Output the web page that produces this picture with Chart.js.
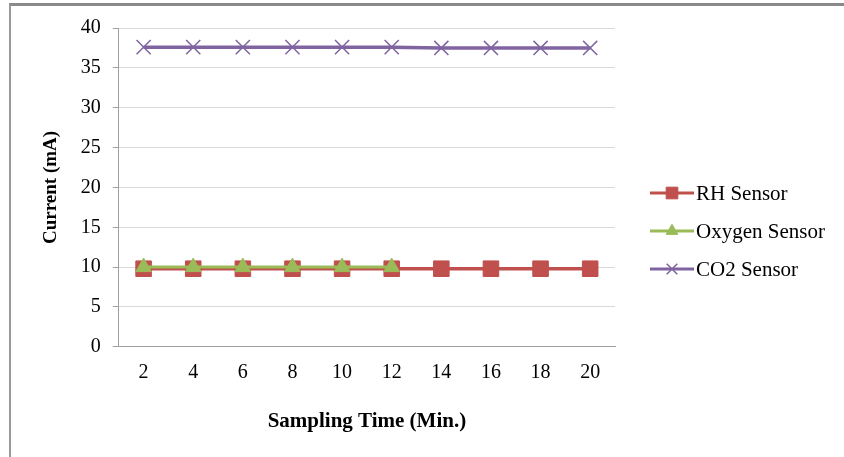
<!DOCTYPE html>
<html lang="en">
<head>
<meta charset="utf-8"/>
<title>Sensor Current</title>
<script src="https://cdn.jsdelivr.net/npm/chart.js"></script>
<style>
    body { margin: 0; background: #fff; }
    #wrap { position: relative; width: 844px; height: 457px; }
    #frame { position: absolute; left: 9px; top: 3px; right: 0; bottom: 0; border-top: 3px solid #8a8a8a; border-left: 2px solid #9a9a9a; pointer-events: none; }
</style>
</head>
<body>
<div id="wrap">
<canvas id="chart" width="844" height="457"></canvas>
<div id="frame"></div>
</div>
<script>
    const labels = ['2', '4', '6', '8', '10', '12', '14', '16', '18', '20'];
    const rhSensor = [9.8, 9.8, 9.8, 9.8, 9.8, 9.8, 9.8, 9.8, 9.8, 9.8];
    const oxygenSensor = [10, 10, 10, 10, 10, 10, null, null, null, null];
    const co2Sensor = [37.6, 37.6, 37.6, 37.6, 37.6, 37.6, 37.5, 37.5, 37.5, 37.5];

    const font = 'Liberation Serif, Times New Roman, serif';

    // legend on the right: line with marker in the middle
    const sideLegend = {
        id: 'sideLegend',
        afterDraw(chart) {
            const ctx = chart.ctx;
            const rows = [193, 231, 269];
            chart.data.datasets.forEach((ds, i) => {
                const y = rows[i];
                ctx.save();
                ctx.strokeStyle = ds.borderColor;
                ctx.lineWidth = 3;
                ctx.beginPath();
                ctx.moveTo(650, y);
                ctx.lineTo(694, y);
                ctx.stroke();
                ctx.fillStyle = ds.backgroundColor;
                ctx.strokeStyle = ds.borderColor;
                ctx.lineWidth = ds.pointBorderWidth || 1;
                Chart.helpers.drawPoint(ctx, { pointStyle: ds.pointStyle, radius: ds.pointRadius * 0.75, borderWidth: ds.pointBorderWidth || 1 }, 672, y);
                ctx.fillStyle = '#000';
                ctx.font = '21px ' + font;
                ctx.textBaseline = 'middle';
                ctx.fillText(ds.label, 696, y + 1);
                ctx.restore();
            });
        }
    };

    new Chart(document.getElementById('chart'), {
        type: 'line',
        data: {
            labels: labels,
            datasets: [
                {
                    label: 'RH Sensor', data: rhSensor, order: 2,
                    borderColor: '#c0504d', backgroundColor: '#c0504d', borderWidth: 3.5,
                    pointStyle: 'rect', pointRadius: 11, pointBorderWidth: 1
                },
                {
                    label: 'Oxygen Sensor', data: oxygenSensor, order: 1,
                    borderColor: '#9bbb59', backgroundColor: '#9bbb59', borderWidth: 3,
                    pointStyle: 'triangle', pointRadius: 9, pointBorderWidth: 1
                },
                {
                    label: 'CO2 Sensor', data: co2Sensor, order: 3,
                    borderColor: '#8064a2', backgroundColor: '#8064a2', borderWidth: 3.5,
                    pointStyle: 'crossRot', pointRadius: 10, pointBorderWidth: 1.5
                }
            ]
        },
        options: {
            responsive: false,
            animation: false,
            spanGaps: false,
            layout: { padding: { left: 40, right: 229, top: 28, bottom: 19 } },
            plugins: { legend: { display: false }, tooltip: { enabled: false } },
            scales: {
                x: {
                    offset: true,
                    grid: { display: false, drawTicks: false },
                    border: { color: '#a0a0a0' },
                    ticks: { color: '#000', font: { family: font, size: 20 }, padding: 14 },
                    title: { display: true, text: 'Sampling Time (Min.)', color: '#000', font: { family: font, size: 21, weight: 'bold' }, padding: { top: 10 } }
                },
                y: {
                    min: 0, max: 40,
                    grid: { color: '#d9d9d9', tickColor: '#a0a0a0', tickLength: 6 },
                    border: { color: '#a0a0a0' },
                    ticks: { stepSize: 5, color: '#000', font: { family: font, size: 20 }, padding: 12 },
                    title: { display: true, text: 'Current (mA)', color: '#000', font: { family: font, size: 19, weight: 'bold' }, padding: { top: 0, bottom: 6 } }
                }
            }
        },
        plugins: [sideLegend]
    });
</script>
</body>
</html>
